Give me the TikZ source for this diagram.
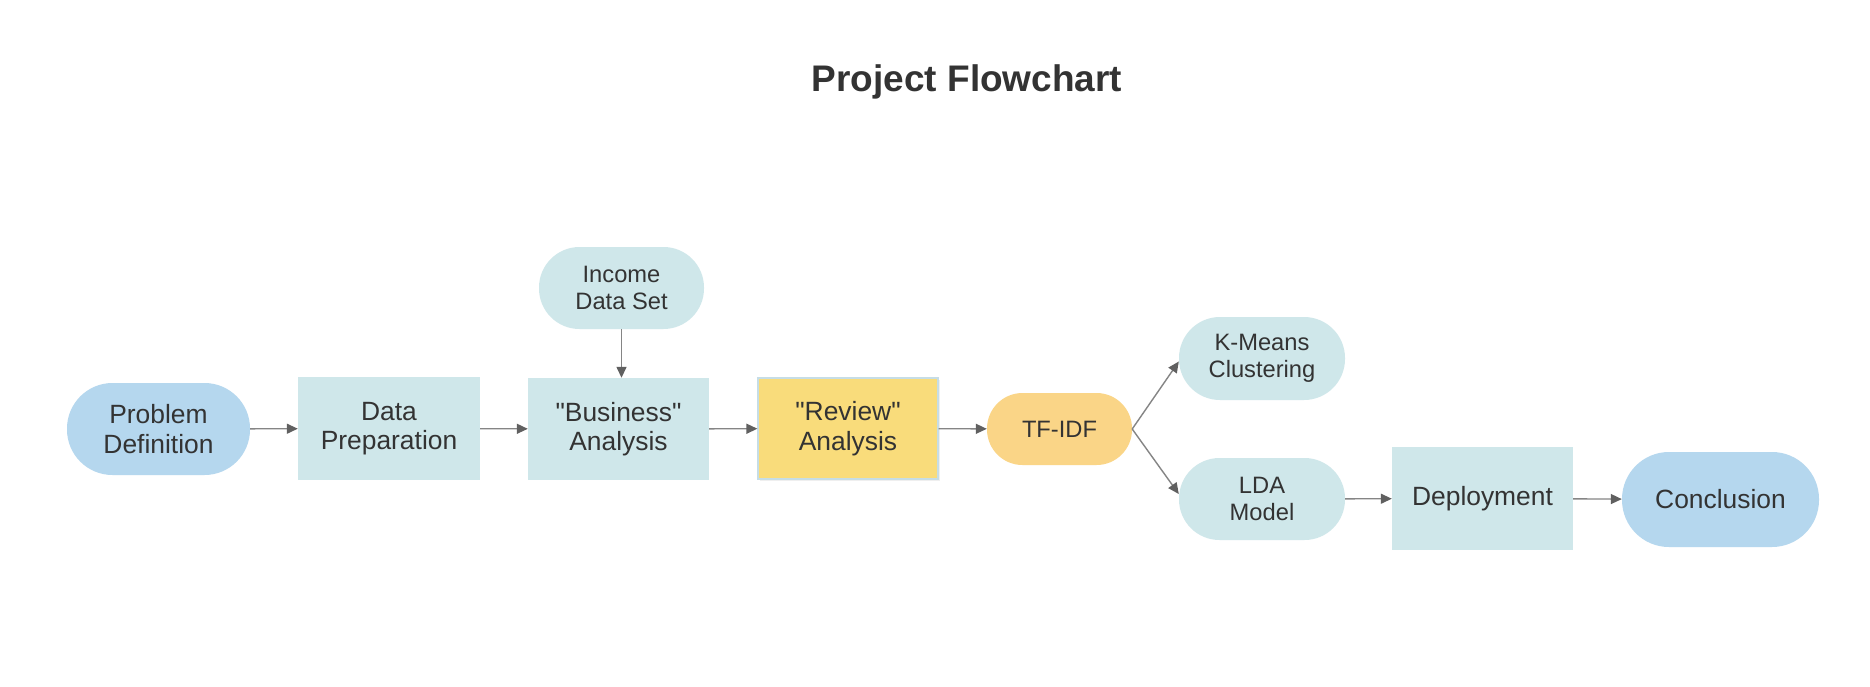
\documentclass[tikz,border=0pt]{standalone}
\usepackage{fontspec}
\setmainfont{Liberation Sans}
\usetikzlibrary{arrows.meta,shadows}
\definecolor{pblue}{HTML}{B5D7EE}
\definecolor{pteal}{HTML}{CFE7EA}
\definecolor{pyellow}{HTML}{F9DC7B}
\definecolor{porange}{HTML}{FAD587}
\definecolor{ptext}{HTML}{333333}
\definecolor{pline}{HTML}{858585}
\definecolor{phead}{HTML}{606060}
\definecolor{pborder}{HTML}{C6DDE6}
\begin{document}
\begin{tikzpicture}[x=1pt,y=-1pt,
  base/.style={inner sep=0pt, align=center, text=ptext},
  bigtext/.style={font=\fontsize{26.4}{29.5}\selectfont},
  smalltext/.style={font=\fontsize{23.7}{27}\selectfont},
  rectbox/.style args={#1/#2}{base, rectangle, fill=pteal, minimum width=#1pt, minimum height=#2pt},
  pillbox/.style args={#1/#2}{base, rectangle, rounded corners=#2/2*1pt-0.5pt, minimum width=#1pt, minimum height=#2pt},
  conn/.style={draw=pline, line width=1.4pt, -{Triangle[length=11pt,width=10pt,color=phead]}}
]
\useasboundingbox[fill=white] (0,0) rectangle (1870,686);

\node[base, font=\fontsize{37}{42}\selectfont\bfseries, anchor=base] (title) at (967,91) {Project Flowchart};

\node[pillbox=183/92, fill=pblue, bigtext] (pd) at (158.5,429) {Problem\\Definition};
\node[rectbox=182/103, bigtext] (dp) at (389,428.5) {Data\\Preparation};
\node[pillbox=165/82, fill=pteal, smalltext] (inc) at (621.5,288) {Income\\Data Set};
\node[rectbox=181/102, bigtext] (ba) at (618.5,429) {\textquotedbl Business\textquotedbl\\Analysis};
\node[rectbox=180/101, fill=pyellow, draw=pborder, line width=1.2pt, bigtext,
      drop shadow={shadow xshift=1.5pt, shadow yshift=-1.5pt, opacity=0.12}] (ra) at (848,428.5) {\textquotedbl Review\textquotedbl\\Analysis};
\node[pillbox=145/72, fill=porange, smalltext] (tf) at (1059.5,429) {TF-IDF};
\node[pillbox=166/83, fill=pteal, smalltext] (km) at (1262,358.5) {K-Means\\Clustering};
\node[pillbox=166/82, fill=pteal, smalltext] (lda) at (1262,499) {LDA\\Model};
\node[rectbox=181/103, bigtext] (dep) at (1482.5,498.5) {Deployment};
\node[pillbox=197/95, fill=pblue, bigtext] (con) at (1720.5,499.5) {Conclusion};

\draw[conn] (pd) -- (dp);
\draw[conn] (dp) -- (ba);
\draw[conn] (inc.south) -- (inc.south |- ba.north);
\draw[conn] (ba) -- (ra);
\draw[conn] (ra) -- (tf);
\draw[conn] (tf.east) -- ([yshift=-3pt]km.west);
\draw[conn] (tf.east) -- ([yshift=5pt]lda.west);
\draw[conn] (lda) -- (dep);
\draw[conn] (dep) -- (con);
\end{tikzpicture}
\end{document}
